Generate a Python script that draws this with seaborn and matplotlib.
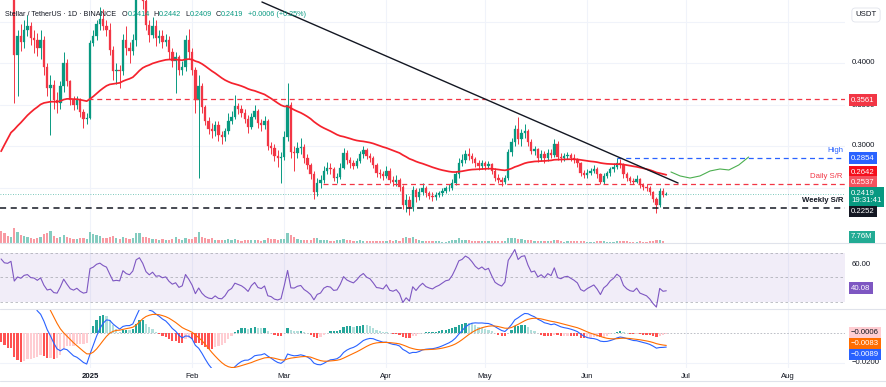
import numpy as np
import pandas as pd
import matplotlib
matplotlib.use("Agg")
import matplotlib.pyplot as plt
import matplotlib.dates as mdates
from matplotlib.lines import Line2D
import seaborn as sns

sns.set_theme(style="white")
plt.rcParams["font.family"] = ["Liberation Sans", "DejaVu Sans"]

# ---------------- data ----------------
start_date = "2024-12-05"
first_open = 0.52

closes = [
    0.505, 0.49, 0.488, 0.50, 0.41, 0.432, 0.425, 0.44, 0.444, 0.43,
    0.428, 0.418, 0.428, 0.395, 0.37, 0.373, 0.355, 0.352, 0.372, 0.40,
    0.378, 0.356, 0.349, 0.355, 0.341, 0.332, 0.334, 0.424, 0.432, 0.447,
    0.453, 0.445, 0.44, 0.416, 0.39, 0.392, 0.39, 0.428, 0.418, 0.414,
    0.428, 0.48, 0.492, 0.475, 0.446, 0.434, 0.445, 0.43, 0.432, 0.425,
    0.428, 0.413, 0.403, 0.407, 0.391, 0.395, 0.428, 0.413, 0.392, 0.355,
    0.372, 0.347, 0.33, 0.321, 0.318, 0.325, 0.313, 0.311, 0.318, 0.33,
    0.335, 0.348, 0.344, 0.34, 0.333, 0.323, 0.335, 0.342, 0.328, 0.325,
    0.33, 0.30, 0.297, 0.288, 0.285, 0.287, 0.311, 0.349, 0.293, 0.292,
    0.297, 0.299, 0.285, 0.277, 0.266, 0.244, 0.256, 0.259, 0.27, 0.274,
    0.272, 0.262, 0.263, 0.274, 0.291, 0.283, 0.279, 0.276, 0.282, 0.29,
    0.295, 0.288, 0.285, 0.277, 0.267, 0.266, 0.264, 0.27, 0.259, 0.257,
    0.259, 0.251, 0.229, 0.235, 0.226, 0.247, 0.238, 0.245, 0.25, 0.243,
    0.24, 0.238, 0.241, 0.243, 0.246, 0.249, 0.25, 0.256, 0.266, 0.28,
    0.283, 0.29, 0.288, 0.284, 0.279, 0.276, 0.279, 0.276, 0.278, 0.27,
    0.262, 0.259, 0.257, 0.261, 0.293, 0.305, 0.321, 0.308, 0.316, 0.318,
    0.305, 0.294, 0.296, 0.286, 0.29, 0.285, 0.292, 0.289, 0.303, 0.287,
    0.285, 0.288, 0.289, 0.286, 0.283, 0.279, 0.268, 0.265, 0.268, 0.27,
    0.272, 0.266, 0.257, 0.264, 0.267, 0.272, 0.275, 0.28, 0.277, 0.266,
    0.261, 0.258, 0.257, 0.26, 0.253, 0.251, 0.249, 0.244, 0.236, 0.229,
    0.246, 0.2414, 0.2419,
]

highs = [
    0.56, 0.515, 0.50, 0.52, 0.51, 0.44, 0.447, 0.452, 0.458, 0.45,
    0.44, 0.436, 0.44, 0.432, 0.40, 0.385, 0.38, 0.365, 0.378, 0.413,
    0.405, 0.38, 0.36, 0.36, 0.358, 0.345, 0.34, 0.428, 0.44, 0.452,
    0.468, 0.465, 0.452, 0.448, 0.42, 0.40, 0.398, 0.435, 0.445, 0.425,
    0.435, 0.49, 0.51, 0.50, 0.48, 0.452, 0.455, 0.452, 0.44, 0.44,
    0.435, 0.432, 0.418, 0.413, 0.41, 0.402, 0.434, 0.441, 0.418, 0.395,
    0.385, 0.376, 0.35, 0.335, 0.328, 0.33, 0.33, 0.318, 0.322, 0.34,
    0.342, 0.361, 0.352, 0.35, 0.345, 0.337, 0.34, 0.35, 0.345, 0.333,
    0.336, 0.333, 0.305, 0.302, 0.295, 0.293, 0.318, 0.376, 0.353, 0.30,
    0.305, 0.31, 0.302, 0.29, 0.28, 0.27, 0.262, 0.265, 0.276, 0.281,
    0.28, 0.275, 0.268, 0.279, 0.298, 0.295, 0.287, 0.283, 0.286, 0.294,
    0.30, 0.297, 0.292, 0.288, 0.28, 0.272, 0.27, 0.276, 0.273, 0.264,
    0.265, 0.262, 0.253, 0.242, 0.24, 0.252, 0.25, 0.249, 0.256, 0.252,
    0.246, 0.244, 0.245, 0.246, 0.249, 0.252, 0.254, 0.26, 0.27, 0.285,
    0.29, 0.295, 0.298, 0.292, 0.287, 0.283, 0.283, 0.282, 0.282, 0.28,
    0.273, 0.266, 0.263, 0.265, 0.296, 0.31, 0.325, 0.335, 0.32, 0.326,
    0.32, 0.308, 0.30, 0.298, 0.295, 0.294, 0.296, 0.296, 0.308, 0.306,
    0.291, 0.292, 0.293, 0.291, 0.29, 0.286, 0.281, 0.271, 0.272, 0.274,
    0.277, 0.275, 0.268, 0.267, 0.27, 0.275, 0.279, 0.285, 0.284, 0.279,
    0.269, 0.264, 0.262, 0.265, 0.262, 0.256, 0.254, 0.252, 0.246, 0.238,
    0.249, 0.249, 0.2442,
]

lows = [
    0.49, 0.482, 0.478, 0.482, 0.352, 0.36, 0.415, 0.418, 0.432, 0.422,
    0.412, 0.408, 0.405, 0.385, 0.36, 0.313, 0.345, 0.34, 0.345, 0.365,
    0.372, 0.35, 0.343, 0.344, 0.335, 0.322, 0.326, 0.332, 0.42, 0.428,
    0.44, 0.44, 0.432, 0.41, 0.38, 0.375, 0.37, 0.386, 0.41, 0.40,
    0.41, 0.42, 0.477, 0.465, 0.44, 0.425, 0.43, 0.42, 0.424, 0.418,
    0.42, 0.405, 0.395, 0.364, 0.385, 0.386, 0.39, 0.405, 0.386, 0.34,
    0.261, 0.34, 0.325, 0.315, 0.31, 0.312, 0.306, 0.303, 0.306, 0.315,
    0.326, 0.332, 0.338, 0.335, 0.328, 0.316, 0.32, 0.332, 0.322, 0.318,
    0.32, 0.295, 0.29, 0.282, 0.275, 0.255, 0.283, 0.306, 0.285, 0.27,
    0.285, 0.29, 0.28, 0.272, 0.26, 0.236, 0.24, 0.25, 0.255, 0.266,
    0.266, 0.258, 0.256, 0.26, 0.272, 0.278, 0.274, 0.272, 0.273, 0.279,
    0.286, 0.284, 0.281, 0.273, 0.263, 0.261, 0.259, 0.261, 0.255, 0.252,
    0.252, 0.246, 0.224, 0.22, 0.217, 0.222, 0.233, 0.235, 0.241, 0.239,
    0.236, 0.234, 0.235, 0.238, 0.24, 0.243, 0.246, 0.247, 0.253, 0.262,
    0.276, 0.279, 0.283, 0.279, 0.275, 0.271, 0.272, 0.271, 0.272, 0.266,
    0.258, 0.255, 0.252, 0.254, 0.259, 0.288, 0.30, 0.303, 0.30, 0.31,
    0.30, 0.29, 0.289, 0.281, 0.282, 0.279, 0.282, 0.285, 0.287, 0.283,
    0.281, 0.282, 0.284, 0.282, 0.279, 0.275, 0.264, 0.261, 0.262, 0.265,
    0.267, 0.262, 0.254, 0.254, 0.261, 0.264, 0.269, 0.272, 0.273, 0.262,
    0.258, 0.255, 0.254, 0.255, 0.25, 0.247, 0.246, 0.241, 0.232, 0.219,
    0.226, 0.239, 0.2409,
]

volumes_m = [
    520, 430, 300, 280, 650, 480, 350,
    300, 260, 220, 180, 200, 240,
    380, 420, 520, 300, 220, 260, 330,
    260, 230, 160, 180, 200, 210, 170,
    480, 380, 330, 300, 220, 200, 260,
    300, 210, 180, 260, 220, 160, 200,
    450, 420, 280, 250, 230, 180, 170,
    150, 160, 130, 140, 180, 250, 170,
    150, 200, 170, 160, 280, 480, 280,
    230, 170, 200, 120, 130, 150, 140,
    160, 130, 180, 120, 100, 120, 150,
    120, 130, 140, 100, 110, 220, 170,
    160, 130, 190, 180, 420, 350, 240,
    180, 150, 150, 110, 130, 220, 200,
    150, 140, 110, 90, 90, 110, 130,
    160, 130, 110, 80, 90, 110, 100,
    90, 80, 90, 100, 70, 90, 100,
    110, 100, 110, 90, 200, 260, 210,
    280, 170, 120, 100, 90, 80, 80,
    80, 70, 60, 60, 70, 110, 150,
    200, 130, 140, 110, 90, 100, 80,
    80, 90, 70, 70, 80, 70, 80,
    80, 220, 200, 230, 180, 170, 130,
    140, 130, 90, 100, 80, 90, 100,
    80, 140, 120, 70, 60, 70, 70,
    70, 80, 90, 70, 60, 60, 60,
    70, 90, 80, 60, 50, 60, 90,
    80, 90, 80, 60, 50, 60, 80,
    60, 60, 70, 90, 120, 110, 70, 7.76,
]

# indicator starting states (values before the first visible bar)
ema50_seed = 0.285
macd_fast_seed = 0.475
macd_slow_seed = 0.405
macd_signal_seed = 0.075
rsi_seed_gain = 0.016
rsi_seed_loss = 0.0075

# last values as printed on the chart's scale and legend
last_ema_label = 0.2642
last_rsi_label = 40.08
last_hist_label = -0.0006
last_signal_label = -0.0083
last_macd_label = -0.0089
change_abs = 0.0006
change_pct = 0.25
bar_countdown = "19:31:41"

# drawn levels / annotations
level_resistance = 0.3561
level_resistance_from = "2024-12-31 12:00"
level_high = 0.2854
level_high_from = "2025-06-10 00:00"
level_daily = 0.2537
level_daily_from = "2025-03-12 20:00"
level_weekly = 0.2252
trend_dates = ["2025-02-22 05:00", "2025-06-28 14:00"]
trend_prices = [0.4735, 0.2554]
proj_dates = ["2025-06-26 10:00", "2025-06-29 05:00", "2025-07-02 05:00",
              "2025-07-05 05:00", "2025-07-08 07:00", "2025-07-11 07:00",
              "2025-07-14 00:00", "2025-07-17 00:00", "2025-07-20 00:00"]
proj_prices = [0.2687, 0.2639, 0.2614, 0.2639, 0.2699, 0.2723, 0.2711, 0.2771, 0.2867]

month_ticks = ["2025-01-01", "2025-02-01", "2025-03-01", "2025-04-01",
               "2025-05-01", "2025-06-01", "2025-07-01", "2025-08-01"]
month_labels = ["2025", "Feb", "Mar", "Apr", "May", "Jun", "Jul", "Aug"]

assert len(closes) == len(highs) == len(lows) == len(volumes_m), (
    len(closes), len(highs), len(lows), len(volumes_m))


def to_num(strings):
    return mdates.date2num(pd.to_datetime(strings, format="mixed"))


# ---------------- derived series ----------------
dates = pd.date_range(start_date, periods=len(closes), freq="D")
xn = mdates.date2num(dates)
c = np.array(closes)
o = np.array([first_open] + closes[:-1])
h = np.array(highs)
l = np.array(lows)
v = np.array(volumes_m, dtype=float)
up = c >= o


def ema_series(vals, span, seed):
    a = 2.0 / (span + 1)
    e = seed
    out = []
    for val in vals:
        e = e + a * (val - e)
        out.append(e)
    return np.array(out)


ema50 = ema_series(c, 50, ema50_seed)
macd = ema_series(c, 12, macd_fast_seed) - ema_series(c, 26, macd_slow_seed)
signal = ema_series(macd, 9, macd_signal_seed)
hist = macd - signal

diffs = np.diff(np.concatenate([[first_open], c]))
ag, al = rsi_seed_gain, rsi_seed_loss
rsi = []
for d in diffs:
    ag = (ag * 13 + max(d, 0)) / 14
    al = (al * 13 + max(-d, 0)) / 14
    rsi.append(100 - 100 / (1 + ag / al))
rsi = np.array(rsi)

# ---------------- colours ----------------
UP = "#089981"
DN = "#f23645"
GRID = "#f0f3fa"
SEP = "#e0e3eb"
TXT = "#131722"

# ---------------- figure layout ----------------
W, H = 886, 387
fig = plt.figure(figsize=(W / 100, H / 100), dpi=100)
fig.patch.set_facecolor("white")


def fx(px):
    return px / W


def fy(py):
    return 1 - py / H


PR = 845  # right edge of plotting area (px)
ax = fig.add_axes([0, fy(243), fx(PR), 243 / H])
ax_rsi = fig.add_axes([0, fy(309), fx(PR), 66 / H])
ax_macd = fig.add_axes([0, fy(368), fx(PR), 59 / H])

px_per_day = 3.293
x_left = xn[0] - 1.1 / px_per_day
x_right = x_left + PR / px_per_day
tick_x = to_num(month_ticks)

for a in (ax, ax_rsi, ax_macd):
    for s in a.spines.values():
        s.set_visible(False)
    a.set_facecolor("none")
    for t in tick_x:
        a.axvline(t, color=GRID, lw=0.8, zorder=0)

# ---------------- main price panel ----------------
p_top = 0.3 + 146 / 830
p_bot = 0.3 - 97 / 830
for lv in (0.25, 0.30, 0.35, 0.40, 0.45):
    ax.axhline(lv, color=GRID, lw=0.8, zorder=0)

# volume on a twin axis
axv = ax.twinx()
vcols = np.where(up, "#84ccc0", "#f89aa2")
axv.bar(xn, v, width=0.68, color=vcols, lw=0, zorder=1)
axv.set_ylim(0, v.max() * 243 / 15)
axv.set_xlim(x_left, x_right)
axv.axis("off")

# candles
cols = np.where(up, UP, DN)
ax.vlines(xn, l, h, colors=cols, lw=0.7, zorder=3)
body = np.maximum(np.abs(c - o), 0.0009)
ax.bar(xn, body, bottom=np.minimum(c, o), width=0.72, color=cols,
       edgecolor=cols, lw=0.2, zorder=4)

# EMA line
sns.lineplot(x=xn, y=ema50, ax=ax, color="#f5222d", lw=1.25, zorder=5)

# levels
dash = (0, (4, 3))
ax.hlines(level_resistance, to_num([level_resistance_from])[0], x_right, colors=DN, lw=0.9,
          linestyles=dash, zorder=5)
ax.hlines(level_high, to_num([level_high_from])[0], x_right,
          colors="#2962ff", lw=0.9, linestyles=dash, zorder=5)
ax.hlines(level_daily, to_num([level_daily_from])[0], x_right,
          colors=DN, lw=0.9, linestyles=dash, zorder=5)
ax.hlines(level_weekly, x_left, x_right, colors=TXT, lw=1.1, linestyles=dash, zorder=5)
ax.hlines(c[-1], x_left, x_right, colors=UP, lw=0.6, linestyles=(0, (1, 2)), alpha=0.7, zorder=2)

# trend line and projection path
sns.lineplot(x=to_num(trend_dates), y=trend_prices, ax=ax, color=TXT, lw=1.0, zorder=6)
sns.lineplot(x=to_num(proj_dates), y=proj_prices, ax=ax,
             color="#4caf50", lw=0.8, zorder=6, sort=False)

ax.set_xlim(x_left, x_right)
ax.set_ylim(p_bot, p_top)
rx = 843 / PR
ax.text(rx, (243 - 151) / 243, "High", transform=ax.transAxes,
        ha="right", va="center", fontsize=5.6, color="#2962ff")
ax.text(rx, (243 - 177) / 243, "Daily S/R", transform=ax.transAxes,
        ha="right", va="center", fontsize=5.6, color=DN)
ax.text(rx, (243 - 201) / 243, "Weekly S/R", transform=ax.transAxes,
        ha="right", va="center", fontsize=5.6, color=TXT, fontweight="bold")
ax.set_xlabel("")
ax.set_ylabel("")
ax.set_xticks([])
ax.set_yticks([])

# ---------------- RSI panel ----------------
ax_rsi.axhspan(30, 70, color="#7e57c2", alpha=0.1, lw=0, zorder=0)
for lv in (70, 50, 30):
    ax_rsi.axhline(lv, color="#9598a1", lw=0.6, dashes=(3, 3), alpha=0.7, zorder=1)
sns.lineplot(x=xn, y=rsi, ax=ax_rsi, color="#7e57c2", lw=0.8, zorder=3)
ax_rsi.set_xlim(x_left, x_right)
ax_rsi.set_ylim(50 - 31.7 / 1.23, 50 + 34.3 / 1.23)
ax_rsi.set_xlabel("")
ax_rsi.set_ylabel("")
ax_rsi.set_xticks([])
ax_rsi.set_yticks([])

# ---------------- MACD panel ----------------
ax_macd.axhline(-0.02, color=GRID, lw=0.8, zorder=0)
ax_macd.axhline(0, color="#b2b5be", lw=0.6, dashes=(2, 2), zorder=1)
prev = np.concatenate([[hist[0]], hist[:-1]])
hcols = np.where(hist >= 0,
                 np.where(hist >= prev, "#26a69a", "#b2dfdb"),
                 np.where(hist <= prev, "#ff5252", "#ffcdd2"))
ax_macd.bar(xn, hist, width=0.68, color=hcols, lw=0, zorder=2)
sns.lineplot(x=xn, y=macd, ax=ax_macd, color="#2962ff", lw=0.8, zorder=3)
sns.lineplot(x=xn, y=signal, ax=ax_macd, color="#ff6d00", lw=0.8, zorder=3)
ax_macd.set_xlim(x_left, x_right)
ax_macd.set_ylim(-(368 - 332.6) / 1505, (332.6 - 309) / 1505)
ax_macd.set_xlabel("")
ax_macd.set_ylabel("")
ax_macd.set_yticks([])
ax_macd.set_xticks(tick_x)
ax_macd.set_xticklabels(month_labels, fontsize=5.6, color=TXT)
ax_macd.tick_params(axis="x", length=0, pad=3.5)
ax_macd.get_xticklabels()[0].set_fontweight("bold")

# ---------------- separators ----------------
for ypx in (243, 309, 381):
    fig.add_artist(Line2D([0, 1], [fy(ypx), fy(ypx)], color=SEP, lw=0.8))

# ---------------- right-hand scale labels ----------------
FS = 5.6


def scale_text(ypx, text, color=TXT):
    fig.text(fx(852), fy(ypx), text, ha="left", va="center", fontsize=FS, color=color)


def scale_tag(ypx, text, fc, tc="white", ls=1.0):
    fig.text(fx(851), fy(ypx), text, ha="left", va="center", fontsize=FS, color=tc,
             linespacing=ls, bbox=dict(boxstyle="square,pad=0.3", fc=fc, ec="none"))


def neg(x):
    return f"{x:.4f}".replace("-", "\u2212")


fig.text(fx(866), fy(15), "USDT", ha="center", va="center", fontsize=FS, color=TXT,
         bbox=dict(boxstyle="round,pad=0.45", fc="white", ec=SEP, lw=0.6))
scale_text(63, "0.4000")
scale_text(105.5, "0.3500")
scale_text(146, "0.3000")
scale_tag(100, f"{level_resistance:.4f}", DN)
scale_tag(158, f"{level_high:.4f}", "#2962ff")
scale_tag(172, f"{last_ema_label:.4f}", "#f50f1c")
scale_tag(182, f"{level_daily:.4f}", "#f4525e")
scale_tag(197, f"{c[-1]:.4f}\n{bar_countdown}", UP, ls=1.15)
scale_tag(211.5, f"{level_weekly:.4f}", TXT)
scale_tag(237, f"{v[-1]:.2f}M", "#22ab94")
scale_text(265, "60.00")
scale_tag(288, f"{last_rsi_label:.2f}", "#7e57c2")
scale_text(362, "\u22120.0200")
scale_tag(333, neg(last_hist_label), "#ffcdd2", tc=TXT)
scale_tag(343.5, neg(last_signal_label), "#ff6d00")
scale_tag(354.5, neg(last_macd_label), "#2962ff")

# ---------------- header legend ----------------
HFS = 5.2
pieces = [("O", TXT, 4), (f"{o[-1]:.4f}", UP, 0),
          ("H", TXT, 3), (f"{h[-1]:.4f}", UP, 0),
          ("L", TXT, 3), (f"{l[-1]:.4f}", UP, 0),
          ("C", TXT, 3), (f"{c[-1]:.4f}", UP, 0),
          (f"+{change_abs:.4f} (+{change_pct:.2f}%)", UP, 3)]
prev_t = fig.text(fx(5), fy(14), "Stellar / TetherUS \u00b7 1D \u00b7 BINANCE", ha="left",
                  va="center", fontsize=HFS, color=TXT, zorder=10)
for txt, col, gap in pieces:
    prev_t = ax.annotate(txt, xy=(1, 0.5), xycoords=prev_t, xytext=(gap, 0),
                         textcoords="offset points", ha="left", va="center",
                         fontsize=HFS, color=col, zorder=10, annotation_clip=False)

fig.savefig("out.png", dpi=100, facecolor="white")
